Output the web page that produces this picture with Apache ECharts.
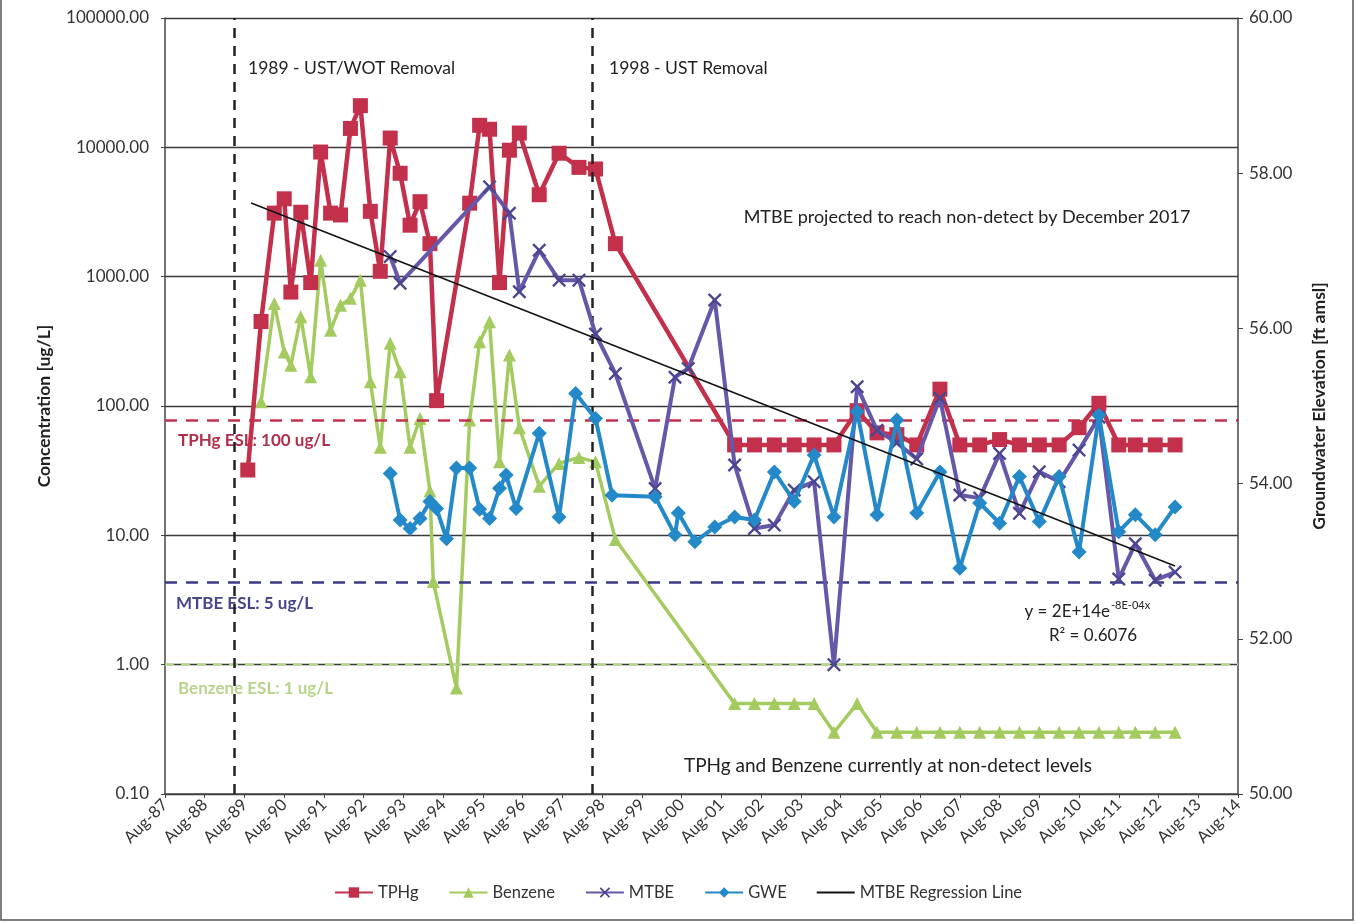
<!DOCTYPE html>
<html>
<head>
<meta charset="utf-8">
<script src="https://cdn.jsdelivr.net/npm/echarts@6/dist/echarts.min.js"></script>
<style>
html,body{margin:0;padding:0;background:#fff;}
#c{width:1356px;height:924px;}
</style>
</head>
<body>
<div id="c"></div>
<script>
// ---------- data ----------
const tphgDates = ['1989-09','1990-01','1990-05','1990-08','1990-10','1991-01','1991-04','1991-07','1991-10','1992-01','1992-04','1992-07','1992-10','1993-01','1993-04','1993-07','1993-10','1994-01','1994-04','1994-06','1995-04','1995-07','1995-10','1996-01','1996-04','1996-07','1997-01','1997-07','1998-01','1998-06','1998-12','2001-12','2002-06','2002-12','2003-06','2003-12','2004-06','2005-01','2005-07','2006-01','2006-07','2007-02','2007-08','2008-02','2008-08','2009-02','2009-08','2010-02','2010-08','2011-02','2011-08','2012-01','2012-07','2013-01'];
const tphgValues = [32,450,3100,4000,760,3150,900,9200,3100,3000,14000,21000,3200,1100,11800,6300,2500,3800,1800,110,3700,14800,13800,900,9500,12900,4300,9000,7000,6800,1800,50,50,50,50,50,50,92,62,60,50,135,50,50,55,50,50,50,68,105,50,50,50,50];

const benzDates = ['1990-01','1990-05','1990-08','1990-10','1991-01','1991-04','1991-07','1991-10','1992-01','1992-04','1992-07','1992-10','1993-01','1993-04','1993-07','1993-10','1994-01','1994-04','1994-05','1994-12','1995-04','1995-07','1995-10','1996-01','1996-04','1996-07','1997-01','1997-07','1998-01','1998-06','1998-12','2001-12','2002-06','2002-12','2003-06','2003-12','2004-06','2005-01','2005-07','2006-01','2006-07','2007-02','2007-08','2008-02','2008-08','2009-02','2009-08','2010-02','2010-08','2011-02','2011-08','2012-01','2012-07','2013-01'];
const benzValues = [108,620,262,207,490,168,1340,386,600,680,940,154,48,305,184,48,80,22,4.4,0.66,78,314,448,37,248,68,24,36,40,37,9.3,0.5,0.5,0.5,0.5,0.5,0.3,0.5,0.3,0.3,0.3,0.3,0.3,0.3,0.3,0.3,0.3,0.3,0.3,0.3,0.3,0.3,0.3,0.3];

const mtbeDates = ['1993-04','1993-07','1995-10','1996-04','1996-07','1997-01','1997-07','1998-01','1998-06','1998-12','1999-12','2000-06','2000-10','2001-06','2001-12','2002-06','2002-12','2003-06','2003-12','2004-06','2005-01','2005-07','2006-01','2006-07','2007-02','2007-08','2008-02','2008-08','2009-02','2009-08','2010-02','2010-08','2011-02','2011-08','2012-01','2012-07','2013-01'];
const mtbeValues = [1430,890,4950,3090,765,1600,940,940,360,178,23,167,195,660,35,11.3,12,22.4,26,1.0,141,65,52,39,115,20.5,19.4,43,14.8,31,26,45.6,82,4.6,8.6,4.5,5.2];

const gweDates = ['1993-04','1993-07','1993-10','1994-01','1994-04','1994-06','1994-09','1994-12','1995-04','1995-07','1995-10','1996-01','1996-03','1996-06','1997-01','1997-07','1997-12','1998-06','1998-11','1999-12','2000-06','2000-07','2000-12','2001-06','2001-12','2002-06','2002-12','2003-06','2003-12','2004-06','2005-01','2005-07','2006-01','2006-07','2007-02','2007-08','2008-02','2008-08','2009-02','2009-08','2010-02','2010-08','2011-02','2011-08','2012-01','2012-07','2013-01'];
const gweValues = [54.13,53.53,53.42,53.55,53.77,53.68,53.29,54.20,54.20,53.67,53.55,53.94,54.11,53.68,54.65,53.57,55.16,54.84,53.85,53.83,53.34,53.62,53.25,53.44,53.57,53.53,54.15,53.77,54.37,53.57,54.93,53.60,54.82,53.62,54.15,52.91,53.75,53.49,54.09,53.51,54.09,53.12,54.88,53.38,53.60,53.34,53.70];

const regDates = ['1989-10','2013-01'];
const regValues = [3710,5.8];

const eslValues = { tphg: 77, mtbe: 4.36, benzene: 1.0 };
const eventDates = ['1989-05','1998-05'];
const eventLabels = ['1989 - UST/WOT Removal','1998 - UST Removal'];

const xStart = '1987-08', xEnd = '2014-08';
const leftTicks = [0.1,1,10,100,1000,10000,100000];
const rightTicks = [50,52,54,56,58,60];

// ---------- helpers ----------
function toIdx(s){ const p=s.split('-'); return (parseInt(p[0])-1987)*12 + (parseInt(p[1])-8); }
function pairs(d,v){ return d.map((s,i)=>[toIdx(s), v[i]]); }

const FONT = 'Lato, "Open Sans", sans-serif';
const C_TPHG='#C3304C', C_BENZ='#A3CB5F', C_MTBE='#6657A8', C_GWE='#2489C8';
const X_PATH = 'path://M0,1.2 L1.2,0 L5,3.8 L8.8,0 L10,1.2 L6.2,5 L10,8.8 L8.8,10 L5,6.2 L1.2,10 L0,8.8 L3.8,5 Z';

const chart = echarts.init(document.getElementById('c'), null, {renderer:'canvas'});

const option = {
  animation:false,
  backgroundColor:'#fff',
  textStyle:{fontFamily:FONT},
  grid:{left:165, right:118, top:18, bottom:130, containLabel:false},
  legend:{
    bottom:18, left:'center', itemGap:30, itemWidth:38, itemHeight:13,
    textStyle:{fontFamily:FONT, fontSize:16.5, color:'#333'},
    data:['TPHg','Benzene','MTBE','GWE',
      {name:'MTBE Regression Line', icon:'path://M0,0 L40,0 L40,2 L0,2 Z'}]
  },
  xAxis:{
    type:'value', min:toIdx(xStart), max:toIdx(xEnd), interval:12,
    axisLine:{show:true, lineStyle:{color:'#444', width:1.5}},
    axisTick:{show:true, length:4, lineStyle:{color:'#444'}},
    splitLine:{show:false},
    axisLabel:{rotate:45, fontSize:16.5, color:'#333', fontFamily:FONT, margin:8,
      formatter:function(v){ const y=1987+Math.round(v/12); return 'Aug-'+String(y%100).padStart(2,'0'); }}
  },
  yAxis:[
    {type:'log', logBase:10, min:leftTicks[0], max:leftTicks[leftTicks.length-1],
     name:'Concentration [ug/L]', nameLocation:'middle', nameRotate:90, nameGap:112,
     nameTextStyle:{fontSize:17.5, fontWeight:'bold', color:'#222', fontFamily:FONT},
     axisLine:{show:true, lineStyle:{color:'#444', width:1.5}},
     axisTick:{show:true, length:4, lineStyle:{color:'#444'}},
     minorTick:{show:false},
     splitLine:{show:true, lineStyle:{color:'#3a3a3a', width:1.3}},
     axisLabel:{fontSize:17, color:'#333', fontFamily:FONT, margin:16,
       formatter:function(v){ return Number(v).toFixed(2); }}
    },
    {type:'value', min:rightTicks[0], max:rightTicks[rightTicks.length-1], interval:2,
     name:'Groundwater Elevation [ft amsl]', nameLocation:'middle', nameRotate:90, nameGap:72,
     nameTextStyle:{fontSize:17.5, fontWeight:'bold', color:'#222', fontFamily:FONT},
     axisLine:{show:true, lineStyle:{color:'#444', width:1.5}},
     axisTick:{show:true, length:5, lineStyle:{color:'#444'}},
     splitLine:{show:false},
     axisLabel:{fontSize:17, color:'#333', fontFamily:FONT, margin:11,
       formatter:function(v){ return Number(v).toFixed(2); }}
    }
  ],
  series:[
    {name:'Benzene', type:'line', yAxisIndex:0, data:pairs(benzDates,benzValues),
     symbol:'triangle', symbolSize:13, itemStyle:{color:C_BENZ}, lineStyle:{color:C_BENZ, width:3.5}, z:3,
     markLine:{silent:true, symbol:'none', label:{show:false},
       lineStyle:{color:'#B6D68E', type:[9,7], width:2.5},
       data:[{yAxis:eslValues.benzene}]}
    },
    {name:'TPHg', type:'line', yAxisIndex:0, data:pairs(tphgDates,tphgValues),
     symbol:'rect', symbolSize:15, itemStyle:{color:C_TPHG}, lineStyle:{color:C_TPHG, width:4.5}, z:4,
     markLine:{silent:true, symbol:'none', label:{show:false},
       data:[
         {yAxis:eslValues.tphg, lineStyle:{color:'#C3304C', type:[12,9], width:2.5}},
         {yAxis:eslValues.mtbe, lineStyle:{color:'#3B3A85', type:[12,9], width:2.5}},
         {xAxis:toIdx(eventDates[0]), lineStyle:{color:'#222', type:[10,8], width:2.5}},
         {xAxis:toIdx(eventDates[1]), lineStyle:{color:'#222', type:[10,8], width:2.5}}
       ]}
    },
    {name:'MTBE', type:'line', yAxisIndex:0, data:pairs(mtbeDates,mtbeValues),
     symbol:X_PATH, symbolSize:14, itemStyle:{color:'#4B4690'}, lineStyle:{color:C_MTBE, width:4}, z:5},
    {name:'GWE', type:'line', yAxisIndex:1, data:pairs(gweDates,gweValues),
     symbol:'diamond', symbolSize:15, itemStyle:{color:C_GWE}, lineStyle:{color:C_GWE, width:4}, z:6},
    {name:'MTBE Regression Line', type:'line', yAxisIndex:0, data:pairs(regDates,regValues),
     symbol:'none', itemStyle:{color:'#111'}, lineStyle:{color:'#111', width:1.5}, z:7}
  ],
  graphic:[
    {type:'rect', shape:{x:1, y:-4, width:1352, height:924}, style:{fill:'none', stroke:'#555', lineWidth:1.5}, silent:true},
    {type:'text', x:248, y:68, style:{text:eventLabels[0], font:'17.5px '+FONT, fill:'#222', textVerticalAlign:'middle'}},
    {type:'text', x:609, y:68, style:{text:eventLabels[1], font:'17.5px '+FONT, fill:'#222', textVerticalAlign:'middle'}},
    {type:'text', x:967, y:217, style:{text:'MTBE projected to reach non-detect by December 2017', font:'18px '+FONT, fill:'#222', textAlign:'center', textVerticalAlign:'middle'}},
    {type:'text', x:1110, y:612, style:{text:'y = 2E+14e', font:'17px '+FONT, fill:'#222', textAlign:'right', textVerticalAlign:'middle'}},
    {type:'text', x:1111, y:605, style:{text:'-8E-04x', font:'11px '+FONT, fill:'#222', textAlign:'left', textVerticalAlign:'middle'}},
    {type:'text', x:1093, y:636, style:{text:'R² = 0.6076', font:'17px '+FONT, fill:'#222', textAlign:'center', textVerticalAlign:'middle'}},
    {type:'text', x:888, y:766, style:{text:'TPHg and Benzene currently at non-detect levels', font:'19px '+FONT, fill:'#222', textAlign:'center', textVerticalAlign:'middle'}},
    {type:'text', x:178, y:441, style:{text:'TPHg ESL: 100 ug/L', font:'bold 17px '+FONT, fill:'#B0304C', textVerticalAlign:'middle'}},
    {type:'text', x:176, y:604, style:{text:'MTBE ESL: 5 ug/L', font:'bold 17px '+FONT, fill:'#46468A', textVerticalAlign:'middle'}},
    {type:'text', x:178, y:689, style:{text:'Benzene ESL: 1 ug/L', font:'bold 17px '+FONT, fill:'#B8D48C', textVerticalAlign:'middle'}}
  ]
};
chart.setOption(option);
</script>
</body>
</html>
